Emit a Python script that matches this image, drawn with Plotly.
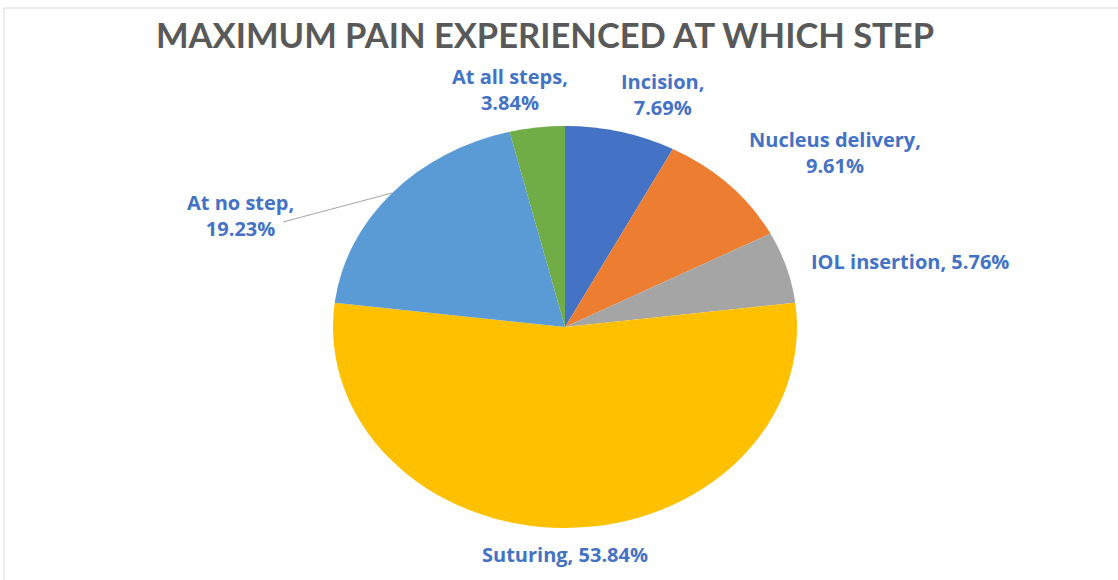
import plotly.graph_objects as go

# ---- data ----
categories = ["Incision", "Nucleus delivery", "IOL insertion", "Suturing", "At no step", "At all steps"]
values = [7.69, 9.61, 5.76, 53.84, 19.23, 3.84]
label_text = ["Incision,<br>7.69%", "Nucleus delivery,<br>9.61%", "IOL insertion, 5.76%",
              "Suturing, 53.84%", "At no step,<br>19.23%", "At all steps,<br>3.84%"]
colors = ["#4472C4", "#ED7D31", "#A5A5A5", "#FFC000", "#5B9BD5", "#70AD47"]

W, H = 1118, 580
CX, CY, R = 565, 327, 201  # pie centre / radius in px (height-based)
# label anchor positions (px)
label_pos = [(662, 95), (835, 152), (910, 261), (565, 554), (240, 215), (510, 90)]

def px(x):
    return x / W

def py(y):
    return 1 - y / H

fig = go.Figure(go.Pie(
    labels=categories,
    values=values,
    sort=False,
    direction="clockwise",
    rotation=0,
    marker=dict(colors=colors, line=dict(width=0)),
    textinfo="none",
    hoverinfo="label+percent",
    showlegend=False,
    domain=dict(x=[px(CX - R), px(CX + R)], y=[py(CY + R), py(CY - R)]),
))

annotations = []
for txt, (lx, ly) in zip(label_text, label_pos):
    annotations.append(dict(
        text=txt, x=px(lx), y=py(ly), xref="paper", yref="paper",
        xanchor="center", yanchor="middle", showarrow=False, align="center",
        font=dict(family="Open Sans", size=20, color="#4472C4", weight="bold"),
    ))

shapes = [
    # chart border
    dict(type="rect", xref="paper", yref="paper", x0=px(4), y0=py(8), x1=1.02, y1=-0.02,
         line=dict(color="#D9D9D9", width=1), fillcolor="rgba(0,0,0,0)", layer="below"),
    # leader line for "At no step"
    dict(type="line", xref="paper", yref="paper", x0=px(283), y0=py(222), x1=px(392), y1=py(193),
         line=dict(color="#A6A6A6", width=1)),
]

fig.update_layout(
    width=W, height=H,
    margin=dict(l=0, r=0, t=0, b=0),
    paper_bgcolor="white", plot_bgcolor="white",
    title=dict(text="MAXIMUM PAIN EXPERIENCED AT WHICH STEP",
               x=px(545), xanchor="center", y=py(36), yanchor="middle",
               font=dict(family="Lato", size=34.5, color="#595959", weight="bold")),
    annotations=annotations,
    shapes=shapes,
)

post = """
document.body.style.margin = '0';
var gd = document.getElementById('{plot_id}');
var g = gd.querySelector('.pielayer');
if (g) { g.setAttribute('transform', 'translate(%d,0) scale(%.4f,1) translate(-%d,0)'); }
""" % (CX, 232.0 / R, CX)

fig.write_html("out.html", post_script=post, config={"displayModeBar": False})
